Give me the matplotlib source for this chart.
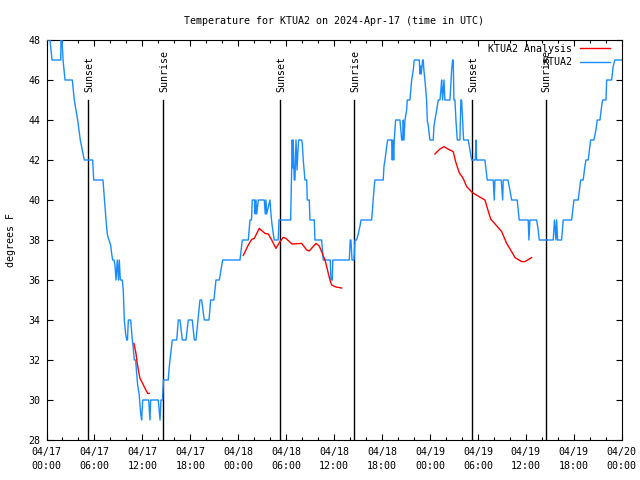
import matplotlib
matplotlib.use('Agg')
import matplotlib.pyplot as plt
import numpy as np
from matplotlib.ticker import FixedLocator, MultipleLocator

plt.rcParams['font.family'] = ['DejaVu Sans Mono']

title = "Temperature for KTUA2 on 2024-Apr-17 (time in UTC)"
ylabel = "degrees F"
series_names = ["KTUA2 Analysis", "KTUA2"]

xtick_hours = [0, 6, 12, 18, 24, 30, 36, 42, 48, 54, 60, 66, 72]
xtick_labels = ["04/17\n00:00", "04/17\n06:00", "04/17\n12:00", "04/17\n18:00",
                "04/18\n00:00", "04/18\n06:00", "04/18\n12:00", "04/18\n18:00",
                "04/19\n00:00", "04/19\n06:00", "04/19\n12:00", "04/19\n18:00",
                "04/20\n00:00"]
ytick_values = [28, 30, 32, 34, 36, 38, 40, 42, 44, 46, 48]

# hours since 2024-04-17 00:00 UTC
event_hours = [5.23, 14.62, 29.22, 38.52, 53.30, 62.48]
event_names = ["Sunset", "Sunrise", "Sunset", "Sunrise", "Sunset", "Sunrise"]

obs_hours = [0.00, 0.44, 0.69, 1.78, 1.81, 1.94, 2.07, 2.32, 3.23, 3.48, 3.90, 4.23, 4.73,
             5.78, 5.91, 7.07, 7.45, 7.61, 7.73, 8.03, 8.16, 8.29, 8.45, 8.57, 8.70, 8.86,
             9.01, 9.11, 9.24, 9.49, 9.61, 9.74, 9.91, 10.04, 10.14, 10.24, 10.54, 10.74,
             10.86, 10.99, 11.16, 11.29, 11.41, 11.61, 11.79, 11.91, 12.04, 12.79, 12.95,
             13.04, 13.99, 14.21, 14.33, 14.52, 14.64, 15.24, 15.33, 15.46, 15.67, 15.74,
             16.30, 16.50, 16.71, 17.00, 17.46, 17.75, 18.25, 18.50, 18.71, 19.21, 19.42,
             19.75, 20.34, 20.55, 20.96, 21.21, 21.63, 22.05, 24.22, 24.51, 25.26, 25.47,
             25.66, 25.76, 26.06, 26.10, 26.22, 26.31, 26.51, 27.26, 27.38, 27.47, 27.56,
             27.97, 28.10, 28.22, 28.39, 28.51, 29.01, 29.10, 30.56, 30.66, 30.76, 30.84,
             30.88, 31.01, 31.10, 31.23, 31.36, 31.48, 31.56, 31.94, 32.02, 32.14, 32.35,
             32.57, 32.64, 32.89, 32.98, 33.52, 33.60, 34.44, 34.64, 35.52, 35.61, 35.77,
             35.84, 37.90, 38.02, 38.11, 38.24, 38.49, 38.61, 38.82, 39.02, 39.24, 39.37,
             40.70, 40.83, 40.90, 41.02, 41.11, 42.15, 42.24, 42.37, 42.58, 42.70, 43.20,
             43.28, 43.37, 43.46, 43.53, 43.70, 44.24, 44.46, 44.58, 44.66, 44.75, 44.87,
             45.08, 45.16, 45.49, 45.71, 45.91, 46.03, 46.66, 46.75, 46.83, 46.91, 47.08,
             47.16, 47.24, 47.37, 47.58, 47.66, 47.79, 48.00, 48.41, 48.50, 48.63, 48.84,
             49.04, 49.25, 49.37, 49.46, 49.58, 49.66, 49.75, 49.87, 50.50, 50.62, 50.71,
             50.84, 50.91, 51.00, 51.13, 51.25, 51.42, 51.75, 51.87, 51.96, 52.09, 52.21,
             52.79, 53.22, 53.67, 53.76, 53.84, 54.88, 55.17, 55.92, 56.05, 56.13, 56.92,
             57.10, 57.17, 57.76, 58.01, 58.22, 58.92, 59.17, 60.30, 60.39, 60.51, 61.35,
             61.55, 61.68, 63.43, 63.58, 63.77, 63.85, 63.98, 64.48, 64.68, 65.73, 66.02,
             66.56, 66.86, 67.18, 67.40, 67.52, 67.81, 68.02, 68.11, 68.52, 68.77, 68.94,
             69.28, 69.49, 69.61, 70.03, 70.12, 70.74, 70.94, 71.15, 72.00]
obs_temp = [48, 48, 47, 47, 48, 48, 47, 46, 46, 45, 44, 43, 42,
            42, 41, 41, 39, 38.3, 38.1, 37.75, 37.3, 37, 37, 36.75, 36, 37,
            36, 37, 36, 36, 35.5, 34, 33.3, 33, 33, 34, 34, 33,
            32.6, 32, 32, 31.3, 30.75, 30.25, 29.3, 29, 30, 30, 29,
            30, 30, 29, 30, 30, 31, 31, 31.5, 32, 32.75, 33,
            33, 34, 34, 33, 33, 34, 34, 33, 33, 35, 35,
            34, 34, 35, 35, 36, 36, 37, 37, 38, 38, 39,
            39, 40, 40, 39.3, 40, 39.3, 40, 40, 39.3, 40, 39.3,
            40, 39.3, 38.8, 38.3, 38, 38, 39, 39, 41, 43, 41.6,
            43, 41, 41, 43, 41.5, 42.5, 43, 43, 42.8, 42, 41,
            41, 40, 40, 39, 39, 38, 38, 37, 37, 36, 36,
            37, 37, 38, 38, 37, 37, 38, 38, 38.3, 38.7, 39,
            39, 39.67, 40, 40.67, 41, 41, 41.67, 42, 42.67, 43, 43,
            42, 43, 42, 43, 44, 44, 43, 43, 44, 43, 44,
            44.5, 45, 45, 46, 46.5, 47, 47, 46.3, 46.7, 46.3, 47,
            47, 46.5, 46, 45, 44, 43.7, 43, 43, 43.7, 44, 44.5,
            45, 45, 45.5, 46, 45, 45.5, 46, 45, 45, 45.8, 46.5,
            47, 47, 45, 45, 44, 43, 43, 45, 45, 44, 43,
            43, 42, 42, 43, 42, 42, 41, 41, 40, 41, 41,
            40, 41, 41, 40.5, 40, 40, 39, 39, 38, 39, 39,
            38.5, 38, 38, 39, 38, 39, 38, 38, 39, 39, 40,
            40, 41, 41, 41.7, 42, 42, 42.7, 43, 43, 43.5, 44,
            44, 44.7, 45, 45, 46, 46, 46.7, 47, 47]

nan = float('nan')
ana_hours = [10.95, 11.20, 11.36, 11.58, 11.70, 12.04, 12.33, 12.67, 12.87, nan,
             24.63, 25.26, 25.68, 26.01, 26.63, 27.35, 27.76, 28.19, 28.72, 29.22, 29.64,
             29.97, 30.73, 31.94, 32.57, 32.89, 33.73, 34.14, 34.86, 35.48, 35.69, 36.23,
             36.95, nan,
             48.62, 49.25, 49.75, 50.25, 50.91, 51.21, 51.66, 52.16, 52.59, 53.29, 54.01,
             54.88, 55.38, 55.63, 56.26, 56.97, 57.60, 58.22, 58.64, 59.47, 59.89, 60.73]
ana_temp = [32.83, 32.33, 31.83, 31.33, 31.08, 30.83, 30.58, 30.33, 30.33, nan,
            37.23, 37.75, 38.03, 38.08, 38.58, 38.33, 38.3, 38.0, 37.58, 37.92, 38.13,
            38.08, 37.8, 37.83, 37.5, 37.45, 37.83, 37.7, 37.0, 36.0, 35.75, 35.65,
            35.6, nan,
            42.3, 42.55, 42.67, 42.55, 42.42, 41.92, 41.37, 41.08, 40.67, 40.38, 40.2,
            40.0, 39.33, 39.03, 38.75, 38.42, 37.83, 37.42, 37.12, 36.92, 36.92, 37.12]

blue = '#1a8cff'
red = '#ff0000'
fs = 7.2

fig = plt.figure(figsize=(6.4, 4.8), dpi=100)
ax = fig.add_axes([46.5 / 640, 40 / 480, 575.2 / 640, 400 / 480])

ax.plot(obs_hours, obs_temp, color=blue, lw=1.0, label=series_names[1], zorder=3)
ax.plot(ana_hours, ana_temp, color=red, lw=1.0, label=series_names[0], zorder=4)

for h, name in zip(event_hours, event_names):
    ax.plot([h, h], [28, 45.0], color='black', lw=1.0, zorder=2)
    ax.text(h + 0.12, 45.4, name, rotation=90, ha='center', va='bottom',
            fontsize=fs, color='black')

ax.set_xlim(0, 72)
ax.set_ylim(28, 48)
ax.xaxis.set_major_locator(FixedLocator(xtick_hours))
ax.set_xticklabels(xtick_labels, fontsize=fs, linespacing=1.55)
ax.xaxis.set_minor_locator(MultipleLocator(2))
ax.yaxis.set_major_locator(FixedLocator(ytick_values))
ax.set_yticklabels([str(v) for v in ytick_values], fontsize=fs)
ax.tick_params(axis='both', which='major', direction='in', length=4.5, width=0.8,
               top=True, right=True, colors='black')
ax.tick_params(axis='x', which='major', pad=5)
ax.tick_params(axis='y', which='major', pad=4.5)
ax.tick_params(axis='x', which='minor', direction='in', length=2.5, width=0.8, top=True)
for s in ax.spines.values():
    s.set_linewidth(0.8)

ax.set_title(title, fontsize=fs, pad=11.5)
ax.set_ylabel(ylabel, fontsize=fs, labelpad=9)

handles, labels = ax.get_legend_handles_labels()
order = [labels.index(series_names[0]), labels.index(series_names[1])]
leg = ax.legend([handles[i] for i in order], [labels[i] for i in order],
                loc='upper right', bbox_to_anchor=(0.98, 0.99), frameon=False,
                markerfirst=False, fontsize=fs, handlelength=3.0, handletextpad=0.8,
                labelspacing=0.35, borderaxespad=0, borderpad=0)
for t in leg.get_texts():
    t.set_ha('right')

fig.savefig('out.png', dpi=100)
